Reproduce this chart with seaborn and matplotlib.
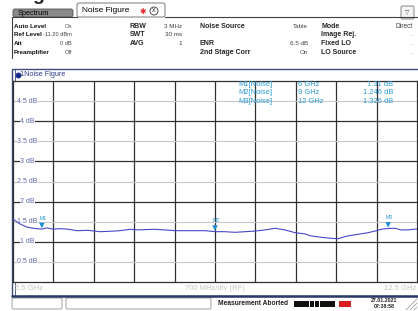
import matplotlib
matplotlib.use('Agg')
import matplotlib.pyplot as plt
import seaborn as sns
import pandas as pd
from matplotlib.patches import Rectangle, FancyBboxPatch, Circle

# --- trace values ---
freq_ghz = [5.50, 5.62, 5.74, 5.85, 6.00, 6.09, 6.19, 6.31, 6.44, 6.61, 6.80,
            7.01, 7.18, 7.35, 7.53, 7.67, 7.84, 7.96, 8.13, 8.31, 8.53, 8.83,
            9.00, 9.17, 9.35, 9.52, 9.69, 9.87, 10.04, 10.21, 10.39, 10.56,
            10.66, 10.84, 11.01, 11.13, 11.30, 11.48, 11.65, 11.77, 11.88,
            12.00, 12.12, 12.22, 12.34, 12.47, 12.50]
nf_db = [1.56, 1.44, 1.36, 1.33, 1.31, 1.34, 1.31, 1.32, 1.31, 1.27, 1.28,
         1.245, 1.255, 1.27, 1.305, 1.29, 1.30, 1.305, 1.29, 1.27, 1.27, 1.27,
         1.246, 1.245, 1.23, 1.245, 1.26, 1.29, 1.33, 1.29, 1.22, 1.19,
         1.14, 1.105, 1.08, 1.07, 1.14, 1.18, 1.22, 1.26, 1.305,
         1.326, 1.33, 1.29, 1.29, 1.31, 1.31]

marker_names = ['M1', 'M2', 'M3']
marker_freq = [6.0, 9.0, 12.0]
marker_nf = [1.31, 1.246, 1.326]
marker_freq_text = ['6 GHz', '9 GHz', '12 GHz']
marker_val_text = ['1.31 dB', '1.246 dB', '1.326 dB']

x_start, x_stop = 5.5, 12.5
x_grid = [6.2, 6.9, 7.6, 8.3, 9.0, 9.7, 10.4, 11.1, 11.8]
y_major = [1, 2, 3, 4]
y_minor = [0.5, 1.5, 2.5, 3.5, 4.5]
y_labels = {4.5: '4.5 dB', 4: '4 dB', 3.5: '3.5 dB', 3: '3 dB', 2.5: '2.5 dB',
            2: '2 dB', 1.5: '1.5 dB', 1: '1 dB', 0.5: '0.5 dB'}

# settings table above the diagram
info_rows = [
    ('Auto Level', 'On', 'RBW', '3 MHz', 'Noise Source', 'Table', 'Mode', 'Direct'),
    ('Ref Level', '-11.20 dBm', 'SWT', '30 ms', '', '', 'Image Rej.', '...'),
    ('Att', '0 dB', 'AVG', '1', 'ENR', '6.5 dB', 'Fixed LO', '...'),
    ('Preamplifier', 'Off', '', '', '2nd Stage Corr', 'On', 'LO Source', '...'),
]

sns.set_style('white')
plt.rcParams['font.family'] = ['Liberation Sans', 'DejaVu Sans']

fig = plt.figure(figsize=(4.18, 3.11), dpi=100)
fig.patch.set_facecolor('white')

# overlay in pixel coordinates for the instrument UI
ui = fig.add_axes([0, 0, 1, 1], zorder=0)
ui.set_xlim(0, 418)
ui.set_ylim(311, 0)
ui.axis('off')

# partial title at the very top (cut by the screenshot)
ui.text(38, 0.3, 'g', fontsize=14, fontweight='bold', ha='center', va='baseline')

# tabs
ui.add_patch(FancyBboxPatch((13, 9), 60, 8, boxstyle='round,pad=0,rounding_size=2',
                            fc='#8a8a8a', ec='#505050', lw=0.6))
ui.text(18, 13.3, 'Spectrum', fontsize=5.3, va='center', color='black')
ui.add_patch(FancyBboxPatch((77, 3), 88, 14, boxstyle='round,pad=0,rounding_size=2',
                            fc='white', ec='#606060', lw=0.6))
ui.text(82, 11, 'Noise Figure', fontsize=6, va='center', color='black')
ui.text(143, 11, '\u2731', fontsize=5.5, va='center', ha='center', color='#e02020',
        family='DejaVu Sans')
ui.add_patch(Circle((154, 11), 4, fc='white', ec='#303030', lw=0.6))
ui.text(154, 10.6, 'x', fontsize=5, va='center', ha='center', color='#303030')
ui.plot([12, 77], [17, 17], color='#404040', lw=0.8)
ui.plot([165, 418], [17, 17], color='#404040', lw=0.8)
ui.plot([12, 12], [17, 58], color='#404040', lw=0.8)

# small icon top right
ui.add_patch(FancyBboxPatch((401, 6), 13, 13, boxstyle='round,pad=0,rounding_size=1.5',
                            fc='#f4f4f4', ec='#707070', lw=0.6))
ui.text(407.5, 13, '\u25BD', fontsize=4, ha='center', va='center', color='#404060',
        family='DejaVu Sans')

# settings rows
row_y = [26, 34.7, 43.5, 52.3]
for yy, row in zip(row_y, info_rows):
    l1, v1, l2, v2, l3, v3, l4, v4 = row
    ui.text(14, yy, l1, fontsize=4.5, fontweight='bold', va='center', color='#101010')
    ui.text(72, yy, v1, fontsize=4.1, va='center', ha='right', color='#404040')
    ui.text(130, yy, l2, fontsize=5.0, fontweight='bold', va='center')
    ui.text(182, yy, v2, fontsize=4.5, va='center', ha='right', color='#404040')
    ui.text(200, yy, l3, fontsize=5.0, fontweight='bold', va='center')
    ui.text(308, yy, v3, fontsize=4.5, va='center', ha='right', color='#404040')
    ui.text(321, yy, l4, fontsize=5.0, fontweight='bold', va='center')
    if v4 == 'Direct':
        ui.text(396, yy, v4, fontsize=4.8, va='center', color='#404040')
    else:
        ui.text(412, yy, v4, fontsize=4.5, va='center', ha='center', color='#b0b0b0')

# diagram panel frame
ui.add_patch(Rectangle((12, 69), 410, 227, fc='white', ec='#3c4a78', lw=1.0))
ui.plot([14.5, 14.5], [69, 296], color='#3c4a78', lw=0.6)
ui.plot([12, 418], [296, 296], color='#2c3a68', lw=1.8)
ui.plot(17.5, 75, 'o', ms=3.2, color='#1a2a8a')
ui.text(20.5, 75, '1Noise Figure', fontsize=5.2, va='center', color='#2a3a8a')

# bottom axis annotations
ui.text(15, 289, f'{x_start:g} GHz', fontsize=5.5, va='center', color='#c4c4c4')
ui.text(215, 289, '700 MHz/div (RF)', fontsize=5.5, va='center', ha='center',
        color='#c4c4c4')
ui.text(416, 289, f'{x_stop:g} GHz', fontsize=5.5, va='center', ha='right',
        color='#c4c4c4')

# status bar
ui.add_patch(FancyBboxPatch((12, 298), 50, 11, boxstyle='round,pad=0,rounding_size=1.5',
                            fc='white', ec='#909090', lw=0.6))
ui.add_patch(FancyBboxPatch((66, 298), 145, 11, boxstyle='round,pad=0,rounding_size=1.5',
                            fc='white', ec='#909090', lw=0.6))
ui.text(218, 303.5, 'Measurement Aborted', fontsize=4.8, fontweight='bold',
        va='center', color='#202020')
for i in range(8):
    ui.add_patch(Rectangle((294 + i * 5.2, 300.5), 4.6, 6.5, fc='#101010', ec='none'))
ui.add_patch(Rectangle((339, 301), 12, 6, fc='#d82020', ec='none'))
ui.text(384, 300.5, '27.01.2021', fontsize=3.8, fontweight='bold', ha='center',
        va='center', color='#202020')
ui.text(384, 307, '07:38:58', fontsize=3.8, fontweight='bold', ha='center',
        va='center', color='#202020')
for k in range(3):
    ui.plot([406 + k * 4, 417], [310, 299 + k * 4], color='#909090', lw=0.5)

# --- the diagram itself ---
ax = fig.add_axes([13 / 418, 29.5 / 311, 404 / 418, 200 / 311], zorder=2)
ax.set_facecolor('white')
ax.set_xlim(x_start, x_stop)
ax.set_ylim(0, 5)
ax.set_xticks(x_grid)
ax.set_yticks(y_major)
ax.set_yticks(y_minor, minor=True)
ax.grid(which='major', axis='x', color='#303030', lw=0.9)
ax.grid(which='major', axis='y', color='#303030', lw=0.9)
ax.grid(which='minor', axis='y', color='#c8c8c8', lw=0.8)
ax.tick_params(which='both', length=0, labelleft=False, labelbottom=False)
for s in ax.spines.values():
    s.set_color('#303030')
    s.set_linewidth(0.9)

for v, lab in y_labels.items():
    ax.text(0.036, v, lab, transform=ax.get_yaxis_transform(), fontsize=5.0,
            ha='center', va='center', color='#5a6aa8',
            bbox=dict(fc='white', ec='none', pad=0.4), zorder=3)

trace = pd.DataFrame({'freq': freq_ghz, 'nf': nf_db})
sns.lineplot(data=trace, x='freq', y='nf', ax=ax, color='#4848c8', lw=0.8,
             sort=False, zorder=4)

mk = pd.DataFrame({'freq': marker_freq, 'nf': [v + 0.09 for v in marker_nf]})
sns.scatterplot(data=mk, x='freq', y='nf', ax=ax, marker='v', s=16,
                color='#1a90d0', edgecolor='none', zorder=5, legend=False)
for name, f, v in zip(marker_names, marker_freq, marker_nf):
    ax.text(f + 0.02, v + 0.27, name, fontsize=3.6, ha='center', va='center',
            color='#1a90d0', zorder=5)
ax.set_xlabel('')
ax.set_ylabel('')

# marker table
tab_y = [84.5, 93, 101.5]
for yy, name, ft, vt in zip(tab_y, marker_names, marker_freq_text, marker_val_text):
    ax.text(238, yy, f'{name}[Noise]', transform=ui.transData, fontsize=5.4,
            va='center', color='#2a9ad8', clip_on=False, zorder=6)
    ax.text(298, yy, ft, transform=ui.transData, fontsize=5.4,
            va='center', color='#2a9ad8', clip_on=False, zorder=6)
    ax.text(393, yy, vt, transform=ui.transData, fontsize=5.4, ha='right',
            va='center', color='#2a9ad8', clip_on=False, zorder=6)

fig.savefig('out.png', dpi=100)
